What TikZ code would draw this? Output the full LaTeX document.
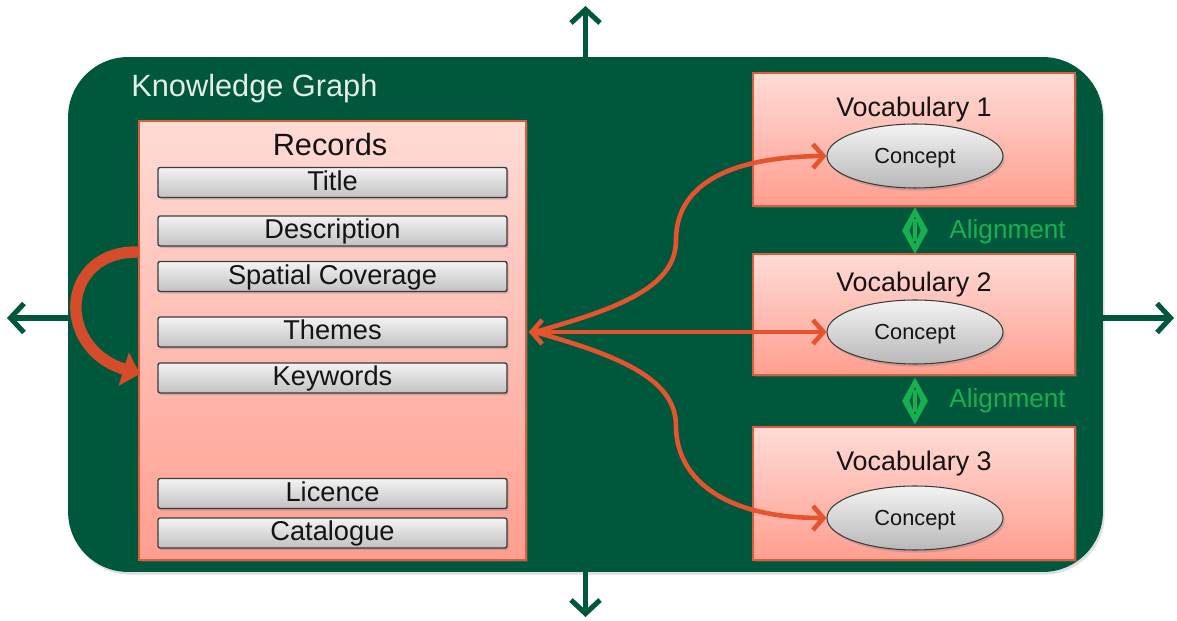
\documentclass[tikz,border=0pt]{standalone}
\usepackage{fontspec}
\setmainfont{Liberation Sans}
\usetikzlibrary{arrows.meta,shapes.geometric,shadows,calc}
\definecolor{kg}{HTML}{00583C}
\definecolor{orng}{HTML}{E8532F}
\definecolor{algn}{HTML}{17B04F}
\definecolor{pinktop}{HTML}{FFDBD6}
\definecolor{pinkbot}{HTML}{FF9E8F}
\definecolor{boxline}{HTML}{E05A3C}
\definecolor{bartop}{HTML}{F3F3F3}
\definecolor{barbot}{HTML}{C2C2C2}
\definecolor{barline}{HTML}{3C3C3C}
\definecolor{kgtext}{HTML}{E6EEE8}
\begin{document}
\begin{tikzpicture}[x=0.02cm,y=-0.02cm,
  kgbox/.style={fill=kg, rounded corners=1.2cm, minimum width=20.7cm, minimum height=10.3cm, inner sep=0,
    drop shadow={shadow xshift=1pt, shadow yshift=-1.5pt, opacity=0.25}},
  kgtitle/.style={text=kgtext, font=\fontsize{17.5}{20}\selectfont, inner sep=0},
  pinkbox/.style={top color=pinktop, bottom color=pinkbot, draw=boxline, line width=0.8pt, inner sep=0,
    drop shadow={shadow xshift=1pt, shadow yshift=-1pt, opacity=0.3}},
  recbox/.style={pinkbox, minimum width=7.74cm, minimum height=8.78cm},
  vocbox/.style={pinkbox, minimum width=6.44cm},
  bigtitle/.style={anchor=base, inner sep=0, text=black!92, font=\fontsize{17.5}{20}\selectfont},
  voctitle/.style={anchor=base, inner sep=0, text=black!92, font=\fontsize{15.3}{18}\selectfont},
  bar/.style={draw=barline, line width=0.8pt, top color=bartop, bottom color=barbot, rounded corners=1.2pt,
    minimum width=6.98cm, minimum height=0.6cm, inner sep=0, text height=12pt, text depth=3pt,
    text=black!92, font=\fontsize{15.5}{18}\selectfont,
    drop shadow={shadow xshift=1pt, shadow yshift=-1.2pt, opacity=0.35}},
  concept/.style={ellipse, draw=barline, line width=0.6pt, top color=bartop, bottom color=barbot!95!black,
    minimum width=3.52cm, minimum height=1.28cm, inner sep=0, text height=9.5pt, text depth=1.5pt,
    text=black!92, font=\fontsize{12.4}{14}\selectfont,
    drop shadow={shadow xshift=1pt, shadow yshift=-1.5pt, opacity=0.35}},
  aligndia/.style={diamond, fill=algn, inner sep=0, minimum width=0.52cm, minimum height=0.94cm,
    path picture={
      \fill[kg] ($(path picture bounding box.center)+(0,-14)$) -- ++(5.5,14) -- ++(-5.5,14) -- ++(-5.5,-14) -- cycle;
      \draw[algn, line width=1.8pt] ($(path picture bounding box.center)+(0,-11)$) -- ++(0,22);
    }},
  aligntext/.style={anchor=west, inner sep=0, text=algn, font=\fontsize{14.9}{17}\selectfont},
  garrow/.style={draw=kg, line width=2.9pt, -{Straight Barb[length=0.27cm, width=0.58cm]}},
  oarrow/.style={draw=orng, line width=2.6pt, -{Straight Barb[length=0.21cm, width=0.48cm]}},
  bigarrow/.style={draw=orng!92!black, line width=6.5pt, -{Triangle[length=0.34cm, width=0.68cm]}}
]
\useasboundingbox (0,0) rectangle (1177,621);

% outer knowledge graph
\node[kgbox] (kg) at (585.5,314.5) {};
\node[kgtitle, anchor=base west] (kgt) at (131,97) {Knowledge Graph};

% outer arrows
\coordinate (topend) at (585.5,6);
\coordinate (botend) at (585.5,617);
\coordinate (leftend) at (7,318);
\coordinate (rightend) at (1174,318);
\draw[garrow] (kg.north) -- (topend);
\draw[garrow] (kg.south) -- (botend);
\draw[garrow] (kg.west |- leftend) -- (leftend);
\draw[garrow] (kg.east |- rightend) -- (rightend);

% records
\node[recbox] (records) at (332.5,340.5) {};
\node[bigtitle] (rectitle) at (330,156) {Records};
\node[bar] (title) at (332.5,182.5) {Title};
\node[bar] (descr) at (332.5,231) {Description};
\node[bar] (spatial) at (332.5,276.5) {Spatial Coverage};
\node[bar] (themes) at (332.5,332) {Themes};
\node[bar] (keywords) at (332.5,378) {Keywords};
\node[bar] (licence) at (332.5,493.5) {Licence};
\node[bar] (catalogue) at (332.5,533) {Catalogue};

% vocabularies
\node[vocbox, minimum height=2.66cm] (v1) at (914,139.5) {};
\node[vocbox, minimum height=2.42cm] (v2) at (914,314.5) {};
\node[vocbox, minimum height=2.66cm] (v3) at (914,493.5) {};
\node[voctitle] (v1t) at (914,117) {Vocabulary 1};
\node[voctitle] (v2t) at (914,292) {Vocabulary 2};
\node[voctitle] (v3t) at (914,471) {Vocabulary 3};
\node[concept] (c1) at (915,156) {Concept};
\node[concept] (c2) at (915,332) {Concept};
\node[concept] (c3) at (915,518) {Concept};

% alignments
\node[aligndia] (al1) at (915,230.5) {};
\node[aligndia] (al2) at (915,401) {};
\node[aligntext] (al1t) at (949,232) {Alignment};
\node[aligntext] (al2t) at (949,401) {Alignment};

% orange connectors
\coordinate (hub) at ($(records.east |- themes.center)+(2,0)$);
\coordinate (hubr) at ($(hub)+(6,0)$);
\draw[oarrow, {Straight Barb[length=0.21cm, width=0.48cm]}-{Straight Barb[length=0.21cm, width=0.48cm]}] (hub) -- (c2.west);
\draw[oarrow] (hubr) .. controls (625,307) and (676,285) .. (676,240)
  .. controls (676,190) and (720,157) .. (c1.west);
\draw[oarrow] (hubr) .. controls (625,357) and (676,381) .. (676,426)
  .. controls (676,476) and (720,518) .. (c3.west);

% left curved arrow
\coordinate (la) at (139,252);
\coordinate (lb) at (140,374);
\draw[bigarrow] (la) .. controls (60,250) and (55,348) .. (lb);
\end{tikzpicture}
\end{document}
